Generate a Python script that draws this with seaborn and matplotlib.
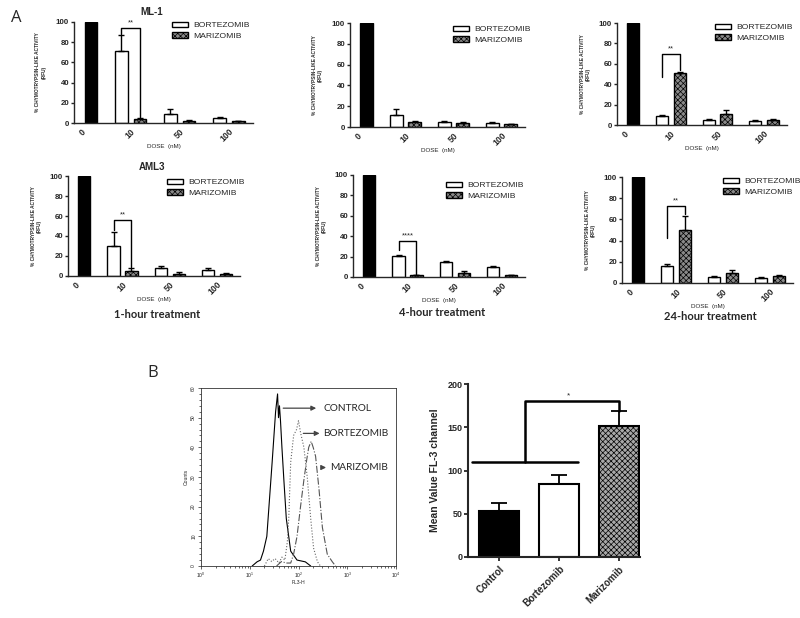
import numpy as np
import pandas as pd
import matplotlib
matplotlib.use("Agg")
import matplotlib.pyplot as plt
from matplotlib.ticker import MultipleLocator, LogLocator, NullFormatter
import seaborn as sns

# ---------------- data ----------------
doses = ["0", "10", "50", "100"]
treated_doses = ["10", "50", "100"]
control_value = [100]

# ML-1
ml1_1h_bort = [71, 9, 5]
ml1_1h_bort_err = [16, 5, 0.7]
ml1_1h_mari = [4, 2, 2]
ml1_1h_mari_err = [1, 0.8, 0.4]
ml1_1h_bracket = [88, 94, 5]

ml1_4h_bort = [12, 5, 4]
ml1_4h_bort_err = [5, 0.5, 1]
ml1_4h_mari = [5, 4, 3]
ml1_4h_mari_err = [0.5, 0.5, 0.3]

ml1_24h_bort = [9, 5, 4]
ml1_24h_bort_err = [0.5, 0.4, 1]
ml1_24h_mari = [51, 11, 5]
ml1_24h_mari_err = [1, 4, 1]
ml1_24h_bracket = [47, 70, 54]

# AML3
aml3_1h_bort = [30, 8, 6]
aml3_1h_bort_err = [14, 2, 2.5]
aml3_1h_mari = [5, 2.5, 2]
aml3_1h_mari_err = [3, 1.5, 1]
aml3_1h_bracket = [46, 56, 9]

aml3_4h_bort = [21, 15, 10]
aml3_4h_bort_err = [0.5, 0.3, 0.7]
aml3_4h_mari = [1.5, 4, 1.5]
aml3_4h_mari_err = [0.5, 2, 0.5]
aml3_4h_bracket = [26, 35, 2]

aml3_24h_bort = [16, 6, 5]
aml3_24h_bort_err = [2, 0.5, 0.5]
aml3_24h_mari = [50, 9, 7]
aml3_24h_mari_err = [13, 3, 0.5]
aml3_24h_bracket = [42, 73, 65]

# Panel B: flow histogram (FL3-H, counts)
ctrl_fl3 = [11.2, 14.1, 16.6, 19.1, 22.4, 28.8, 33.9, 37.2, 38.9, 40.7, 42.7, 45.7,
            50.1, 56.2, 69.2, 93.3, 138, 178]
ctrl_counts = [0, 1.4, 2, 5, 10, 35, 52, 58, 50, 54, 49, 40, 29, 16, 5, 2, 1.4, 0]
bort_fl3 = [20, 24, 28.2, 33.1, 39.8, 45.7, 52.5, 58.9, 63.1, 69.2, 79.4, 91.2, 100,
            110, 129, 151, 178, 204, 245, 282]
bort_counts = [0, 2.5, 1.5, 2.5, 1, 3, 2, 8, 16, 35, 44, 46, 49, 45, 40, 30, 16, 6, 1.4, 0]
mari_fl3 = [35.5, 44.7, 56.2, 69.2, 79.4, 93.3, 110, 129, 148, 162, 182, 200, 224,
            263, 309, 389, 490, 575]
mari_counts = [0, 1.5, 1, 1, 4, 10, 20, 29, 36, 40, 42, 40, 37, 26, 13, 4, 1.5, 0]

# Panel B: mean FL-3
b_groups = ["Control", "Bortezomib", "Marizomib"]
b_means = [53, 84, 152]
b_err = [9, 11, 17]
b_lines = [110, 180]

# ---------------- style ----------------
sns.set_style("ticks")
plt.rcParams["font.family"] = ["Liberation Sans", "DejaVu Sans"]
plt.rcParams["hatch.linewidth"] = 0.5
MARI_FACE = "#8a8a8a"
MARI_FACE_B = "#a8a8a8"
W, H = 800, 618

fig = plt.figure(figsize=(8, 6.18), dpi=100)
fig.patch.set_facecolor("white")


def px_rect(l, r, t, b):
    return [l / W, 1 - b / H, (r - l) / W, (b - t) / H]


def center(p):
    return p.get_x() + p.get_width() / 2


def dose_panel(rect, bort, bort_err, mari, mari_err, bracket, stars, leg_xy):
    ax = fig.add_axes(px_rect(*rect))
    ctrl_df = pd.DataFrame({"dose": ["0"], "value": control_value, "group": ["CONTROL"]})
    sns.barplot(data=ctrl_df, x="dose", y="value", hue="group", order=doses,
                hue_order=["BORTEZOMIB", "CONTROL"],
                palette={"BORTEZOMIB": "white", "CONTROL": "black"},
                width=0.76, gap=0.32, dodge=True, edgecolor="black", linewidth=1.0,
                errorbar=None, legend=False, ax=ax, saturation=1)
    tdf = pd.DataFrame({"dose": treated_doses * 2, "value": bort + mari,
                        "group": ["BORTEZOMIB"] * 3 + ["MARIZOMIB"] * 3})
    sns.barplot(data=tdf, x="dose", y="value", hue="group", order=doses,
                hue_order=["BORTEZOMIB", "MARIZOMIB"],
                palette={"BORTEZOMIB": "white", "MARIZOMIB": MARI_FACE},
                width=0.76, gap=0.32, dodge=True, edgecolor="black", linewidth=1.0,
                errorbar=None, legend=False, ax=ax, saturation=1)
    bort_bars = list(ax.containers[-2])
    mari_bars = list(ax.containers[-1])
    for p in mari_bars:
        p.set_hatch("xxxxxx")
    for bars, errs in ((bort_bars, bort_err), (mari_bars, mari_err)):
        xs = [center(p) for p in bars]
        hs = [p.get_height() for p in bars]
        ax.errorbar(xs, hs, yerr=[np.zeros(len(errs)), errs], fmt="none",
                    ecolor="black", elinewidth=1.0, capsize=2.5, capthick=1.0, zorder=3)
    if bracket is not None:
        x1 = center(bort_bars[0])
        x2 = center(mari_bars[0])
        ax.plot([x1, x1, x2, x2], [bracket[0], bracket[1], bracket[1], bracket[2]],
                color="black", lw=1.0, clip_on=False)
        ax.text((x1 + x2) / 2, bracket[1] + 1.5, stars, ha="center", va="bottom",
                fontsize=5.5, clip_on=False)
    ax.set_xlim(-0.154, 3.49)
    ax.set_ylim(0, 100)
    ax.yaxis.set_major_locator(MultipleLocator(20))
    sns.despine(ax=ax)
    for s in ("left", "bottom"):
        ax.spines[s].set_linewidth(1.0)
    ax.tick_params(axis="y", labelsize=5.7, length=2.5, width=1.0, pad=1)
    ax.tick_params(axis="x", labelsize=6.3, length=0, pad=3)
    for lab in ax.get_yticklabels():
        lab.set_fontweight("bold")
    ax.set_xticks(range(len(doses)))
    ax.set_xticklabels(doses, rotation=45, ha="right", rotation_mode="anchor",
                       fontweight="bold")
    ax.set_xlabel("DOSE  (nM)", fontsize=4.5, labelpad=0)
    ax.set_ylabel("% CHYMOTRYPSIN-LIKE ACTIVITY\n(RFU)", fontsize=3.4,
                  fontweight="bold", linespacing=1.2)
    ax.yaxis.set_label_coords(-0.155, 0.5)
    ax.legend(handles=[bort_bars[0], mari_bars[0]], labels=["BORTEZOMIB", "MARIZOMIB"],
              loc="upper left", bbox_to_anchor=(leg_xy[0] / W, 1 - leg_xy[1] / H),
              bbox_transform=fig.transFigure, frameon=False, fontsize=6.1,
              handlelength=1.9, handleheight=0.6, handletextpad=0.6,
              borderpad=0, borderaxespad=0, labelspacing=0.35)
    return ax


dose_panel((74, 253, 22, 123), ml1_1h_bort, ml1_1h_bort_err, ml1_1h_mari,
           ml1_1h_mari_err, ml1_1h_bracket, "**", (172, 21.5))
dose_panel((350, 525, 23, 127), ml1_4h_bort, ml1_4h_bort_err, ml1_4h_mari,
           ml1_4h_mari_err, None, "", (453, 25.5))
dose_panel((617, 787, 23, 125), ml1_24h_bort, ml1_24h_bort_err, ml1_24h_mari,
           ml1_24h_mari_err, ml1_24h_bracket, "**", (715, 23.5))
dose_panel((68, 240, 176, 276), aml3_1h_bort, aml3_1h_bort_err, aml3_1h_mari,
           aml3_1h_mari_err, aml3_1h_bracket, "**", (167, 178.5))
dose_panel((353, 525, 175, 277), aml3_4h_bort, aml3_4h_bort_err, aml3_4h_mari,
           aml3_4h_mari_err, aml3_4h_bracket, "****", (446, 181.5))
dose_panel((622, 793, 177, 283), aml3_24h_bort, aml3_24h_bort_err, aml3_24h_mari,
           aml3_24h_mari_err, aml3_24h_bracket, "**", (723, 177.5))

fig.text(16 / W, 1 - 18 / H, "A", fontsize=12, ha="center", va="center",
         family=["Open Sans", "DejaVu Sans"])
fig.text(153 / W, 1 - 373 / H, "B", fontsize=12, ha="center", va="center",
         family=["Open Sans", "DejaVu Sans"])
fig.text(152 / W, 1 - 12 / H, "ML-1", fontsize=7, fontweight="bold", ha="center", va="center")
fig.text(152 / W, 1 - 167 / H, "AML3", fontsize=7, fontweight="bold", ha="center", va="center")
for x, y, t in ((157, 314, "1-hour treatment"), (442, 313, "4-hour treatment"),
                (710, 317, "24-hour treatment")):
    fig.text(x / W, 1 - y / H, t, fontsize=8, fontweight="bold", ha="center", va="center",
             family=["Lato", "DejaVu Sans"])

# ---------------- Panel B: histogram ----------------
axh = fig.add_axes(px_rect(201, 396, 388, 566))
sns.lineplot(x=ctrl_fl3, y=ctrl_counts, estimator=None, sort=False, color="black",
             lw=0.8, ax=axh)
sns.lineplot(x=bort_fl3, y=bort_counts, estimator=None, sort=False, color="#666666",
             lw=0.8, linestyle=":", ax=axh)
sns.lineplot(x=mari_fl3, y=mari_counts, estimator=None, sort=False, color="#555555",
             lw=0.8, linestyle="-.", ax=axh)
axh.set_xscale("log")
axh.set_xlim(1, 1e4)
axh.set_ylim(0, 60)
axh.yaxis.set_major_locator(MultipleLocator(10))
axh.yaxis.set_minor_locator(MultipleLocator(2))
axh.xaxis.set_major_locator(LogLocator(base=10, numticks=10))
axh.xaxis.set_minor_locator(LogLocator(base=10, subs=np.arange(2, 10), numticks=50))
axh.xaxis.set_minor_formatter(NullFormatter())
axh.tick_params(which="both", labelsize=3.6, direction="out", width=0.5, pad=1)
axh.tick_params(which="major", length=2.5)
axh.tick_params(which="minor", length=1.3)
for lab in axh.get_yticklabels():
    lab.set_rotation(90)
    lab.set_va("center")
for s in axh.spines.values():
    s.set_linewidth(0.6)
    s.set_color("#333333")
axh.set_xlabel("FL3-H", fontsize=3.6, labelpad=0)
axh.set_ylabel("Counts", fontsize=3.6, labelpad=2)
arrow_kw = dict(arrowstyle="-|>", color="#444444", lw=0.9, mutation_scale=7)
lab_font = dict(fontsize=7.3, va="center", ha="left", family=["Lato", "DejaVu Sans"])
axh.annotate("", xy=(263, 53.2), xytext=(42.6, 53.2), arrowprops=arrow_kw)
axh.text(322, 53.2, "CONTROL", **lab_font)
axh.annotate("", xy=(309, 44.7), xytext=(110, 44.7), arrowprops=arrow_kw)
axh.text(322, 44.7, "BORTEZOMIB", **lab_font)
axh.annotate("", xy=(420, 33.2), xytext=(263, 33.2), arrowprops=arrow_kw)
axh.text(450, 33.2, "MARIZOMIB", **lab_font)

# ---------------- Panel B: mean FL-3 bars ----------------
axb = fig.add_axes(px_rect(468, 640, 384, 557))
sns.barplot(x=b_groups, y=b_means, hue=b_groups, palette=["black", "white", MARI_FACE_B],
            width=0.67, edgecolor="black", linewidth=1.5, legend=False, ax=axb,
            saturation=1, errorbar=None)
bars = [p for c in axb.containers for p in c]
bars[2].set_hatch("xxxxxx")
bx = [center(p) for p in bars]
axb.errorbar(bx, [p.get_height() for p in bars], yerr=[np.zeros(3), b_err], fmt="none",
             ecolor="black", elinewidth=1.3, capsize=6, capthick=1.3, zorder=3)
left_x = bx[0] - 0.45
right_x = bx[1] + 0.32
mid_x = (left_x + right_x) / 2
axb.plot([left_x, right_x], [b_lines[0], b_lines[0]], color="black", lw=1.8)
axb.plot([mid_x, mid_x, bx[2], bx[2]],
         [b_lines[0], b_lines[1], b_lines[1], b_means[2] + b_err[2]],
         color="black", lw=1.8)
axb.text((mid_x + bx[2]) / 2 - 0.06, b_lines[1] + 2, "*", ha="center", va="bottom",
         fontsize=6)
axb.set_xlim(-0.52, 2.35)
axb.set_ylim(0, 200)
axb.yaxis.set_major_locator(MultipleLocator(50))
sns.despine(ax=axb)
for s in ("left", "bottom"):
    axb.spines[s].set_linewidth(1.5)
axb.tick_params(axis="y", labelsize=6.5, length=3, width=1.3, pad=1)
axb.tick_params(axis="x", labelsize=7, length=3, width=1.3, pad=2)
for lab in axb.get_yticklabels():
    lab.set_fontweight("bold")
axb.set_xticks(range(3))
axb.set_xticklabels(b_groups, rotation=45, ha="right", rotation_mode="anchor",
                    fontweight="bold")
axb.set_ylabel("Mean Value FL-3 channel", fontsize=7.5, fontweight="bold")
axb.yaxis.set_label_coords(-0.165, 0.5)

fig.savefig("out.png", dpi=100, facecolor="white")
